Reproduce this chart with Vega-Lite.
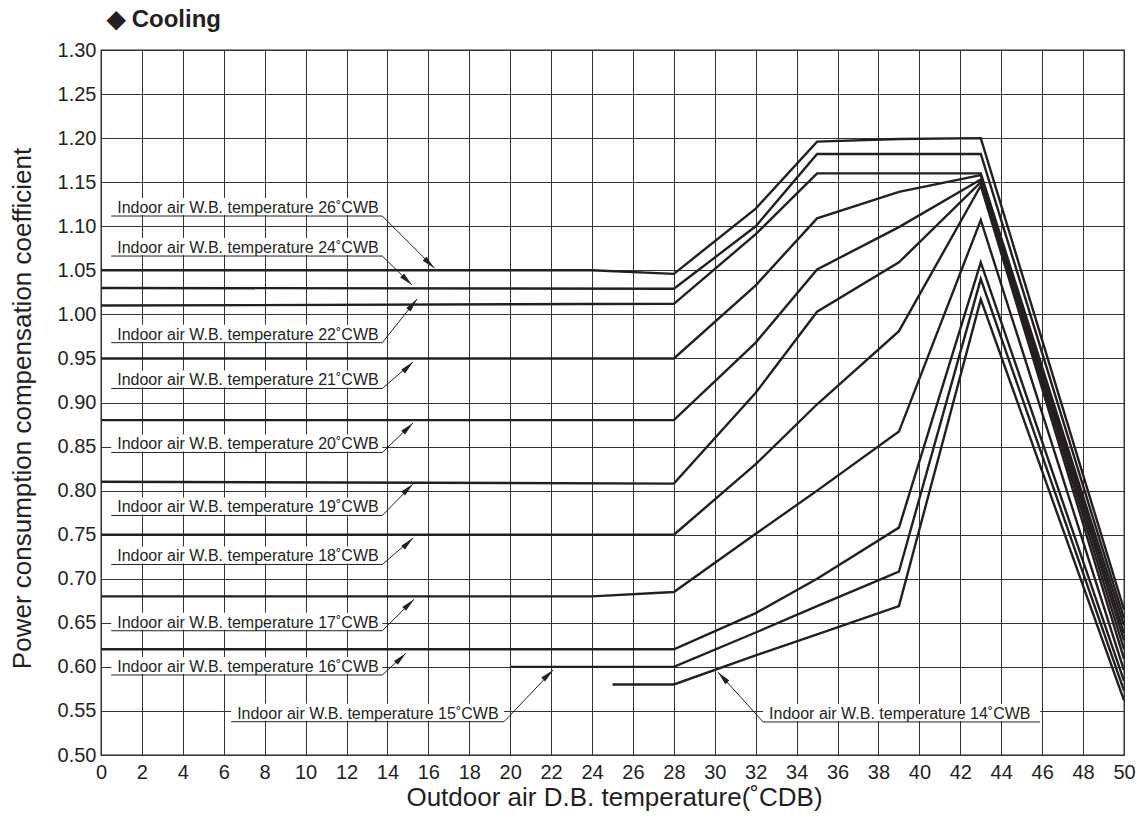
{
  "$schema": "https://vega.github.io/schema/vega-lite/v6.json",
  "width": 1023,
  "height": 705,
  "autosize": {"type": "none"},
  "padding": {"left": 101, "top": 50, "right": 16, "bottom": 65},
  "background": "white",
  "title": {"text": "◆ Cooling", "anchor": "start", "frame": "group", "fontSize": 24, "fontWeight": "bold", "font": "Liberation Sans", "color": "#231f20", "dx": 6, "offset": 8},
  "datasets": {
    "curves": [
      {"wb": "26", "x": 0, "y": 1.05}, {"wb": "26", "x": 24, "y": 1.05}, {"wb": "26", "x": 28, "y": 1.046}, {"wb": "26", "x": 32, "y": 1.12}, {"wb": "26", "x": 35, "y": 1.196}, {"wb": "26", "x": 39, "y": 1.199}, {"wb": "26", "x": 43, "y": 1.2}, {"wb": "26", "x": 50, "y": 0.665},
      {"wb": "24", "x": 0, "y": 1.03}, {"wb": "24", "x": 28, "y": 1.029}, {"wb": "24", "x": 32, "y": 1.1}, {"wb": "24", "x": 35, "y": 1.182}, {"wb": "24", "x": 43, "y": 1.182}, {"wb": "24", "x": 50, "y": 0.655},
      {"wb": "22", "x": 0, "y": 1.01}, {"wb": "22", "x": 28, "y": 1.012}, {"wb": "22", "x": 32, "y": 1.091}, {"wb": "22", "x": 35, "y": 1.16}, {"wb": "22", "x": 43, "y": 1.16}, {"wb": "22", "x": 50, "y": 0.647},
      {"wb": "21", "x": 0, "y": 0.95}, {"wb": "21", "x": 28, "y": 0.95}, {"wb": "21", "x": 32, "y": 1.033}, {"wb": "21", "x": 35, "y": 1.109}, {"wb": "21", "x": 39, "y": 1.139}, {"wb": "21", "x": 43, "y": 1.158}, {"wb": "21", "x": 50, "y": 0.638},
      {"wb": "20", "x": 0, "y": 0.88}, {"wb": "20", "x": 28, "y": 0.88}, {"wb": "20", "x": 32, "y": 0.968}, {"wb": "20", "x": 35, "y": 1.051}, {"wb": "20", "x": 39, "y": 1.099}, {"wb": "20", "x": 43, "y": 1.153}, {"wb": "20", "x": 50, "y": 0.63},
      {"wb": "19", "x": 0, "y": 0.81}, {"wb": "19", "x": 28, "y": 0.808}, {"wb": "19", "x": 32, "y": 0.911}, {"wb": "19", "x": 35, "y": 1.003}, {"wb": "19", "x": 39, "y": 1.059}, {"wb": "19", "x": 43, "y": 1.15}, {"wb": "19", "x": 50, "y": 0.62},
      {"wb": "18", "x": 0, "y": 0.75}, {"wb": "18", "x": 28, "y": 0.75}, {"wb": "18", "x": 32, "y": 0.83}, {"wb": "18", "x": 35, "y": 0.898}, {"wb": "18", "x": 39, "y": 0.981}, {"wb": "18", "x": 43, "y": 1.146}, {"wb": "18", "x": 50, "y": 0.609},
      {"wb": "17", "x": 0, "y": 0.68}, {"wb": "17", "x": 24, "y": 0.68}, {"wb": "17", "x": 28, "y": 0.685}, {"wb": "17", "x": 32, "y": 0.751}, {"wb": "17", "x": 35, "y": 0.8}, {"wb": "17", "x": 39, "y": 0.867}, {"wb": "17", "x": 43, "y": 1.107}, {"wb": "17", "x": 50, "y": 0.596},
      {"wb": "16", "x": 0, "y": 0.62}, {"wb": "16", "x": 28, "y": 0.62}, {"wb": "16", "x": 32, "y": 0.661}, {"wb": "16", "x": 35, "y": 0.7}, {"wb": "16", "x": 39, "y": 0.758}, {"wb": "16", "x": 43, "y": 1.059}, {"wb": "16", "x": 50, "y": 0.584},
      {"wb": "15", "x": 20, "y": 0.6}, {"wb": "15", "x": 28, "y": 0.6}, {"wb": "15", "x": 32, "y": 0.639}, {"wb": "15", "x": 35, "y": 0.669}, {"wb": "15", "x": 39, "y": 0.708}, {"wb": "15", "x": 43, "y": 1.04}, {"wb": "15", "x": 50, "y": 0.573},
      {"wb": "14", "x": 25, "y": 0.58}, {"wb": "14", "x": 28, "y": 0.58}, {"wb": "14", "x": 32, "y": 0.613}, {"wb": "14", "x": 35, "y": 0.637}, {"wb": "14", "x": 39, "y": 0.669}, {"wb": "14", "x": 43, "y": 1.017}, {"wb": "14", "x": 50, "y": 0.562}
    ],
    "labels": [
      {"wb": "26", "text": "Indoor air W.B. temperature 26˚CWB", "x0": 0.5, "x1": 13.75, "yu": 1.1116, "cx": 13.75, "tx": 16.3, "ty": 1.0523, "dir": "down-right"},
      {"wb": "24", "text": "Indoor air W.B. temperature 24˚CWB", "x0": 0.5, "x1": 13.75, "yu": 1.0662, "cx": 13.75, "tx": 15.2, "ty": 1.0333, "dir": "down-right"},
      {"wb": "22", "text": "Indoor air W.B. temperature 22˚CWB", "x0": 0.5, "x1": 13.75, "yu": 0.9679, "cx": 13.75, "tx": 15.45, "ty": 1.0175, "dir": "up-right-steep"},
      {"wb": "21", "text": "Indoor air W.B. temperature 21˚CWB", "x0": 0.5, "x1": 13.75, "yu": 0.9159, "cx": 13.75, "tx": 15.25, "ty": 0.946, "dir": "up-right"},
      {"wb": "20", "text": "Indoor air W.B. temperature 20˚CWB", "x0": 0.5, "x1": 13.75, "yu": 0.8433, "cx": 13.75, "tx": 15.25, "ty": 0.8767, "dir": "up-right"},
      {"wb": "19", "text": "Indoor air W.B. temperature 19˚CWB", "x0": 0.5, "x1": 13.75, "yu": 0.7718, "cx": 13.75, "tx": 15.25, "ty": 0.8075, "dir": "up-right"},
      {"wb": "18", "text": "Indoor air W.B. temperature 18˚CWB", "x0": 0.5, "x1": 13.75, "yu": 0.7162, "cx": 13.75, "tx": 15.25, "ty": 0.7462, "dir": "up-right"},
      {"wb": "17", "text": "Indoor air W.B. temperature 17˚CWB", "x0": 0.5, "x1": 13.75, "yu": 0.641, "cx": 13.75, "tx": 15.3, "ty": 0.6767, "dir": "up-right"},
      {"wb": "16", "text": "Indoor air W.B. temperature 16˚CWB", "x0": 0.5, "x1": 13.75, "yu": 0.5908, "cx": 13.75, "tx": 14.9, "ty": 0.6154, "dir": "up-right"},
      {"wb": "15", "text": "Indoor air W.B. temperature 15˚CWB", "x0": 6.36, "x1": 19.7, "yu": 0.5378, "cx": 19.7, "tx": 22.1, "ty": 0.5965, "dir": "up-right"},
      {"wb": "14", "text": "Indoor air W.B. temperature 14˚CWB", "x0": 32.36, "x1": 45.9, "yu": 0.5375, "cx": 32.36, "tx": 30.16, "ty": 0.594, "dir": "up-left"}
    ]
  },
  "layer": [
    {
      "data": {"name": "labels"},
      "mark": {"type": "rule", "color": "white", "strokeWidth": 17, "yOffset": -9.5, "strokeCap": "butt"},
      "encoding": {
        "x": {"field": "x0", "type": "quantitative"},
        "x2": {"field": "x1"},
        "y": {"field": "yu", "type": "quantitative"}
      }
    },
    {
      "data": {"name": "labels"},
      "mark": {"type": "rule", "color": "#231f20", "strokeWidth": 1},
      "encoding": {
        "x": {"field": "x0", "type": "quantitative"},
        "x2": {"field": "x1"},
        "y": {"field": "yu", "type": "quantitative"}
      }
    },
    {
      "data": {"name": "labels"},
      "mark": {"type": "rule", "color": "#231f20", "strokeWidth": 1},
      "encoding": {
        "x": {"field": "cx", "type": "quantitative"},
        "x2": {"field": "tx"},
        "y": {"field": "yu", "type": "quantitative"},
        "y2": {"field": "ty"}
      }
    },
    {
      "data": {"name": "labels"},
      "transform": [{"filter": "datum.dir == 'down-right'"}],
      "mark": {"type": "point", "shape": "M0,0L0.4,2L-0.4,2Z", "filled": true, "color": "#231f20", "opacity": 1, "size": 190, "strokeWidth": 0, "angle": 134},
      "encoding": {
        "x": {"field": "tx", "type": "quantitative"},
        "y": {"field": "ty", "type": "quantitative"}
      }
    },
    {
      "data": {"name": "labels"},
      "transform": [{"filter": "datum.dir == 'up-right'"}],
      "mark": {"type": "point", "shape": "M0,0L0.4,2L-0.4,2Z", "filled": true, "color": "#231f20", "opacity": 1, "size": 190, "strokeWidth": 0, "angle": 46},
      "encoding": {
        "x": {"field": "tx", "type": "quantitative"},
        "y": {"field": "ty", "type": "quantitative"}
      }
    },
    {
      "data": {"name": "labels"},
      "transform": [{"filter": "datum.dir == 'up-right-steep'"}],
      "mark": {"type": "point", "shape": "M0,0L0.4,2L-0.4,2Z", "filled": true, "color": "#231f20", "opacity": 1, "size": 190, "strokeWidth": 0, "angle": 39},
      "encoding": {
        "x": {"field": "tx", "type": "quantitative"},
        "y": {"field": "ty", "type": "quantitative"}
      }
    },
    {
      "data": {"name": "labels"},
      "transform": [{"filter": "datum.dir == 'up-left'"}],
      "mark": {"type": "point", "shape": "M0,0L0.4,2L-0.4,2Z", "filled": true, "color": "#231f20", "opacity": 1, "size": 190, "strokeWidth": 0, "angle": -42},
      "encoding": {
        "x": {"field": "tx", "type": "quantitative"},
        "y": {"field": "ty", "type": "quantitative"}
      }
    },
    {
      "data": {"name": "labels"},
      "mark": {"type": "text", "align": "left", "baseline": "bottom", "dx": 6, "fontSize": 16, "font": "Liberation Sans", "color": "#231f20"},
      "encoding": {
        "x": {"field": "x0", "type": "quantitative"},
        "y": {"field": "yu", "type": "quantitative"},
        "text": {"field": "text"}
      }
    },
    {
      "data": {"name": "curves"},
      "mark": {"type": "line", "color": "#231f20", "strokeWidth": 2.4, "strokeJoin": "miter"},
      "encoding": {
        "x": {"field": "x", "type": "quantitative", "scale": {"domain": [0, 50], "nice": false, "zero": false},
          "axis": {"title": "Outdoor air D.B. temperature(˚CDB)", "values": [0, 2, 4, 6, 8, 10, 12, 14, 16, 18, 20, 22, 24, 26, 28, 30, 32, 34, 36, 38, 40, 42, 44, 46, 48, 50], "labelPadding": 7, "labelFlush": false, "labelOverlap": false, "titleX": 513, "titleY": 42, "titleBaseline": "middle"}},
        "y": {"field": "y", "type": "quantitative", "scale": {"domain": [0.5, 1.3], "nice": false, "zero": false},
          "axis": {"title": "Power consumption compensation coefficient", "values": [0.5, 0.55, 0.6, 0.65, 0.7, 0.75, 0.8, 0.85, 0.9, 0.95, 1.0, 1.05, 1.1, 1.15, 1.2, 1.25, 1.3], "format": ".2f", "labelPadding": 5, "labelFlush": false, "labelOverlap": false, "titleX": -79, "titleY": 358, "titleBaseline": "middle"}},
        "detail": {"field": "wb", "type": "nominal"}
      }
    }
  ],
  "config": {
    "font": "Liberation Sans",
    "view": {"stroke": "#231f20", "strokeWidth": 1.3},
    "axis": {"grid": true, "gridColor": "#333333", "gridWidth": 1, "gridOpacity": 1, "domain": false, "ticks": false, "labelFont": "Liberation Sans", "labelFontSize": 20, "labelColor": "#231f20", "titleFont": "Liberation Sans", "titleFontSize": 26, "titleFontWeight": "normal", "titleColor": "#231f20"}
  }
}
